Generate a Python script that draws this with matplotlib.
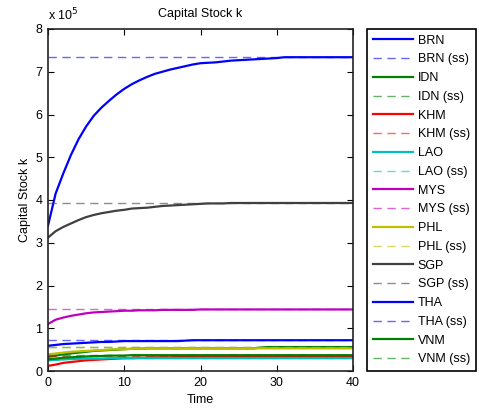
import matplotlib
matplotlib.use('Agg')
import matplotlib.pyplot as plt
from matplotlib.ticker import FuncFormatter

plt.rcParams['font.family'] = ['Liberation Sans', 'DejaVu Sans']
plt.rcParams['font.size'] = 9

# capital stock in units of 1e5, t = 0..40
time = list(range(41))

brn = [3.40, 4.15, 4.62, 5.05, 5.42, 5.72, 5.97, 6.16, 6.32, 6.47,
       6.60, 6.71, 6.80, 6.88, 6.95, 7.00, 7.05, 7.09, 7.13, 7.17,
       7.20, 7.21, 7.22, 7.24, 7.26, 7.27, 7.28, 7.29, 7.30, 7.31,
       7.32, 7.34, 7.34, 7.34, 7.34, 7.34, 7.34, 7.34, 7.34, 7.34, 7.34]
idn = [0.33, 0.36, 0.39, 0.41, 0.43, 0.45, 0.47, 0.48, 0.49, 0.50,
       0.51, 0.52, 0.52, 0.53, 0.53, 0.53, 0.53, 0.53, 0.53, 0.53,
       0.53, 0.53, 0.53, 0.53, 0.53, 0.53, 0.53, 0.53, 0.55, 0.56,
       0.56, 0.56, 0.56, 0.56, 0.56, 0.56, 0.56, 0.56, 0.56, 0.56, 0.56]
khm = [0.12, 0.15, 0.19, 0.21, 0.23, 0.25, 0.26, 0.27, 0.28, 0.29,
       0.30, 0.30, 0.31, 0.31, 0.32, 0.32, 0.32, 0.33, 0.33, 0.33,
       0.33, 0.33, 0.33, 0.33, 0.33, 0.33, 0.33, 0.33, 0.33, 0.33,
       0.33, 0.33, 0.33, 0.33, 0.33, 0.33, 0.33, 0.33, 0.33, 0.33, 0.33]
lao = [0.25, 0.26, 0.27, 0.28, 0.28, 0.29, 0.29, 0.29, 0.30, 0.30,
       0.30, 0.30, 0.30, 0.30, 0.30, 0.30, 0.30, 0.30, 0.30, 0.30,
       0.30, 0.30, 0.30, 0.30, 0.30, 0.30, 0.30, 0.30, 0.30, 0.30,
       0.30, 0.30, 0.30, 0.30, 0.30, 0.30, 0.30, 0.30, 0.30, 0.30, 0.30]
mys = [1.10, 1.20, 1.25, 1.29, 1.32, 1.35, 1.37, 1.38, 1.39, 1.40,
       1.41, 1.41, 1.42, 1.42, 1.42, 1.43, 1.43, 1.43, 1.43, 1.43,
       1.44, 1.44, 1.44, 1.44, 1.44, 1.44, 1.44, 1.44, 1.44, 1.44,
       1.44, 1.44, 1.44, 1.44, 1.44, 1.44, 1.44, 1.44, 1.44, 1.44, 1.44]
phl = [0.39, 0.41, 0.43, 0.45, 0.46, 0.47, 0.48, 0.49, 0.50, 0.51,
       0.51, 0.52, 0.52, 0.53, 0.53, 0.53, 0.53, 0.53, 0.53, 0.53,
       0.53, 0.53, 0.53, 0.53, 0.53, 0.53, 0.53, 0.53, 0.53, 0.53,
       0.53, 0.53, 0.53, 0.53, 0.53, 0.53, 0.53, 0.53, 0.53, 0.53, 0.53]
sgp = [3.12, 3.27, 3.37, 3.45, 3.53, 3.60, 3.65, 3.69, 3.72, 3.75,
       3.77, 3.80, 3.81, 3.82, 3.84, 3.86, 3.87, 3.88, 3.89, 3.90,
       3.91, 3.92, 3.92, 3.92, 3.93, 3.93, 3.93, 3.93, 3.93, 3.93,
       3.93, 3.93, 3.93, 3.93, 3.93, 3.93, 3.93, 3.93, 3.93, 3.93, 3.93]
tha = [0.59, 0.61, 0.63, 0.64, 0.65, 0.66, 0.67, 0.68, 0.68, 0.69,
       0.70, 0.70, 0.70, 0.70, 0.70, 0.70, 0.70, 0.70, 0.71, 0.72,
       0.72, 0.72, 0.72, 0.72, 0.72, 0.72, 0.72, 0.72, 0.72, 0.72,
       0.72, 0.72, 0.72, 0.72, 0.72, 0.72, 0.72, 0.72, 0.72, 0.72, 0.72]
vnm = [0.27, 0.29, 0.31, 0.32, 0.33, 0.34, 0.35, 0.35, 0.36, 0.36,
       0.36, 0.37, 0.37, 0.37, 0.37, 0.37, 0.37, 0.37, 0.37, 0.37,
       0.37, 0.37, 0.37, 0.37, 0.37, 0.37, 0.37, 0.37, 0.37, 0.37,
       0.37, 0.37, 0.37, 0.37, 0.37, 0.37, 0.37, 0.37, 0.37, 0.37, 0.37]

countries = ['BRN', 'IDN', 'KHM', 'LAO', 'MYS', 'PHL', 'SGP', 'THA', 'VNM']
paths = [brn, idn, khm, lao, mys, phl, sgp, tha, vnm]
steady = [7.35, 0.56, 0.34, 0.30, 1.45, 0.55, 3.94, 0.73, 0.375]
colors = [(0, 0, 1), (0, 0.5, 0), (1, 0, 0), (0, 0.75, 0.75), (0.75, 0, 0.75),
          (0.75, 0.75, 0), (0.25, 0.25, 0.25), (0, 0, 1), (0, 0.5, 0)]

fig = plt.figure(figsize=(4.79, 4.09), dpi=100)
ax = fig.add_axes([48/479, 38/409, 305/479, 342/409])

for name, k, ss, c in zip(countries, paths, steady, colors):
    ax.plot(time, [v*1e5 for v in k], color=c, lw=1.6, label=name)
    ax.plot([time[0], time[-1]], [ss*1e5, ss*1e5], color=c, lw=1.0,
            ls=(0, (6, 4)), alpha=0.6, label=name + ' (ss)')

ax.set_xlim(0, 40)
ax.set_ylim(0, 8e5)
ax.set_xticks([0, 10, 20, 30, 40])
ax.set_yticks([i*1e5 for i in range(9)])
ax.yaxis.set_major_formatter(FuncFormatter(lambda v, p: '%d' % round(v/1e5)))
ax.tick_params(direction='in', top=True, right=True, length=4, labelsize=9,
               width=0.8, pad=4)
for s in ax.spines.values():
    s.set_linewidth(1.2)
    s.set_color('#222222')

ax.set_title('Capital Stock k', fontsize=9, pad=9)
ax.set_xlabel('Time', fontsize=9, labelpad=4)
ax.set_ylabel('Capital Stock k', fontsize=9, labelpad=3)
fig.text(48/479, 1 - 15/409, 'x 10$^{5}$', fontsize=9, ha='left', va='center')

leg = fig.legend(loc='upper left', bbox_to_anchor=(367/479, 1 - 29/409),
                 borderaxespad=0, fontsize=9, handlelength=3.2,
                 handletextpad=0.4, labelspacing=0.54, borderpad=0.45,
                 fancybox=False, framealpha=1, edgecolor='black')
leg.get_frame().set_linewidth(1.2)

fig.savefig('out.png', dpi=100)
